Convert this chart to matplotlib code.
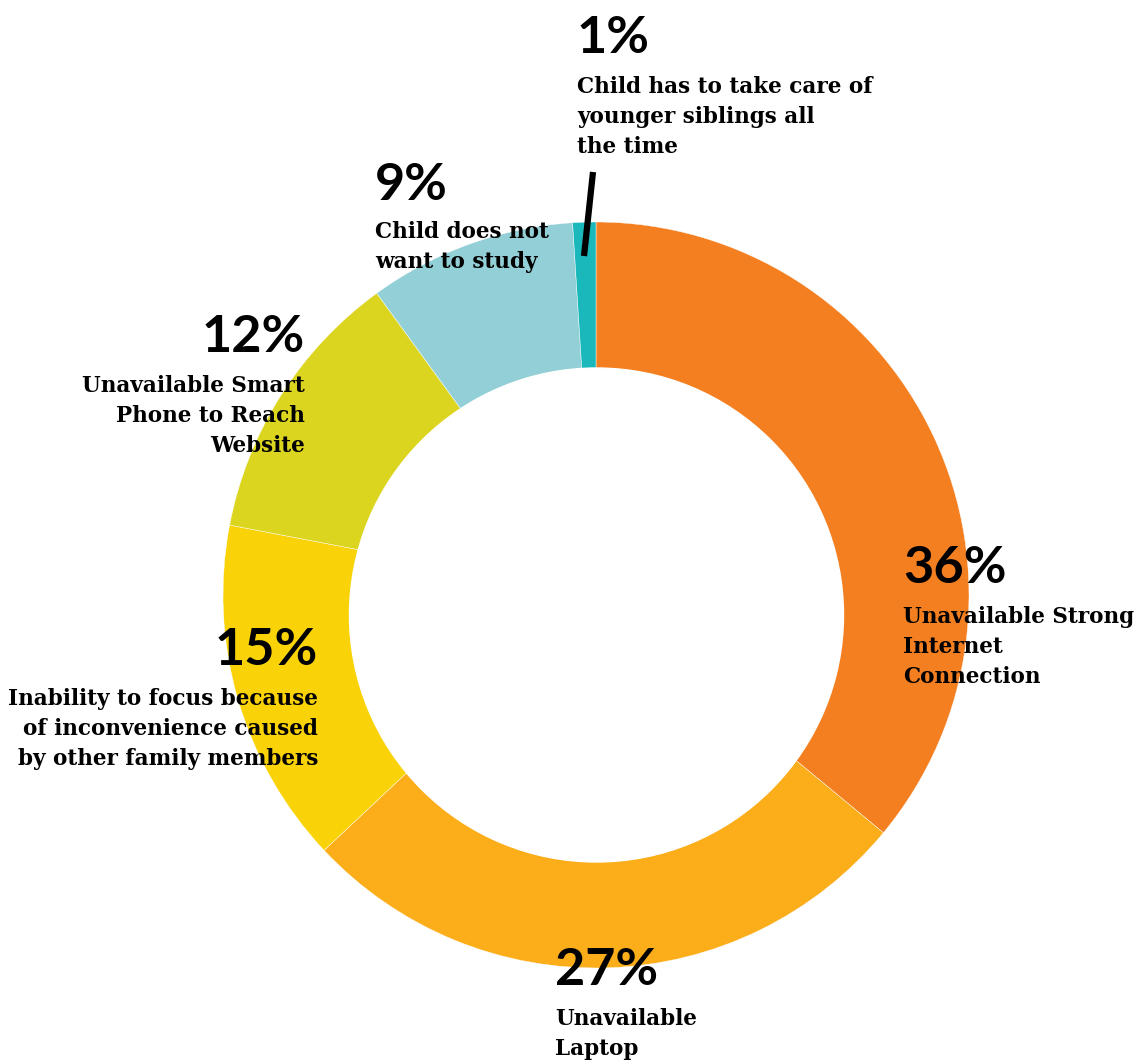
import matplotlib
matplotlib.use("Agg")
import matplotlib.pyplot as plt
from matplotlib.patches import Circle

# slice data, clockwise from 12 o'clock
shares = [36, 27, 15, 12, 9, 1]
reasons = [
    ["Unavailable Strong", "Internet", "Connection"],
    ["Unavailable", "Laptop"],
    ["Inability to focus because", "of inconvenience caused", "by other family members"],
    ["Unavailable Smart", "Phone to Reach", "Website"],
    ["Child does not", "want to study"],
    ["Child has to take care of", "younger siblings all", "the time"],
]
colors = ["#F47F20", "#FBAD1A", "#F9D307", "#DCD520", "#93CFD6", "#1AB8BA"]

# label layout in pixels: anchor x, alignment, baseline of the percent, baseline of first text line
label_pos = [
    (903, "left", 583, 623),
    (555, "left", 985, 1025),
    (318, "right", 665, 705),
    (305, "right", 352, 392),
    (375, "left", 200, 238),
    (577, "left", 53, 93),
]
line_gap = 30

W, H = 1138, 1061
cx, cy = 596, 595   # ring centre in pixels


def px(x, y):
    return x - cx, cy - y


fig = plt.figure(figsize=(W / 100, H / 100), dpi=100)
ax = fig.add_axes([0, 0, 1, 1])
ax.set_aspect("equal")
ax.axis("off")

ax.pie(shares, colors=colors, startangle=90, counterclock=False, radius=373,
       wedgeprops=dict(linewidth=0.3, edgecolor="white"))
ax.set_xlim(-cx, W - cx)
ax.set_ylim(cy - H, cy)

# the hole sits a little below the ring centre
ax.add_patch(Circle((0.5, -20), 247, color="white", zorder=3))

# leader for the 1% slice
ax.plot(*zip(px(593, 172), px(584, 256)), color="black", lw=4.5,
        solid_capstyle="butt", zorder=4)

desc_font = dict(family="DejaVu Serif", weight="bold", size=15.5)
for v, lines, (x, ha, pb, lb) in zip(shares, reasons, label_pos):
    ax.text(*px(x, pb), f"{v}%", ha=ha, va="baseline", family="Lato",
            weight="bold", fontsize=37.5, color="black", zorder=5)
    for i, t in enumerate(lines):
        ax.text(*px(x, lb + i * line_gap), t, ha=ha, va="baseline",
                color="black", zorder=5, **desc_font)

fig.savefig("out.png", dpi=100, facecolor="white")
